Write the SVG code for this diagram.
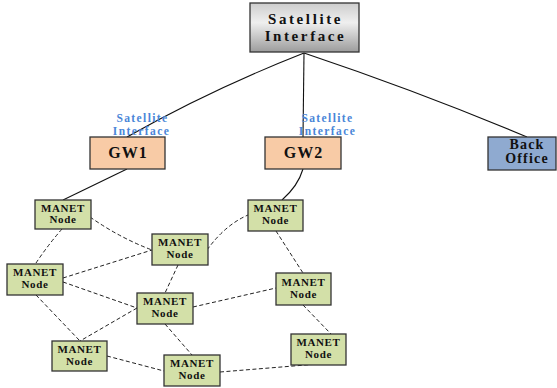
<svg xmlns="http://www.w3.org/2000/svg" width="557" height="388" viewBox="0 0 557 388">
<style>
.box{stroke:#333;stroke-width:1.3}
.t{font-family:'Liberation Serif','Times New Roman','DejaVu Serif',serif;font-weight:bold;fill:#111;text-anchor:middle}
.mt{font-size:11px;letter-spacing:0.6px}
.lbl{font-family:'Liberation Serif','Times New Roman','DejaVu Serif',serif;font-weight:bold;fill:#4a86d8;font-size:11.5px;letter-spacing:1.4px;text-anchor:middle}
.manet{fill:#d3e0a8}
.solid{fill:none;stroke:#111;stroke-width:1.1}
.dash{fill:none;stroke:#222;stroke-width:1;stroke-dasharray:4 2.5}
</style>
<defs>
<linearGradient id="g" x1="0" y1="0" x2="0" y2="1">
<stop offset="0" stop-color="#cdcdcd"/>
<stop offset="0.4" stop-color="#efefef"/>
<stop offset="1" stop-color="#9c9c9c"/>
</linearGradient>
</defs>
<rect width="557" height="388" fill="#fff"/>
<g id="connectors">
<path class="solid" d="M304,53 Q210,90 127,137"/>
<path class="solid" d="M304,53 L303,137"/>
<path class="solid" d="M304,53 Q420,92 527,137"/>
<path class="solid" d="M127,169 L63,200"/>
<path class="solid" d="M303,169 Q298,186 282,200"/>
<path class="dash" d="M62,229 Q48,245 36,263"/>
<path class="dash" d="M90,217 Q120,238 152,250"/>
<path class="dash" d="M63,278 L152,250"/>
<path class="dash" d="M63,282 L137,308"/>
<path class="dash" d="M178,265 L165,293"/>
<path class="dash" d="M207,250 Q225,225 248,215"/>
<path class="dash" d="M36,295 L80,341"/>
<path class="dash" d="M137,308 L80,341"/>
<path class="dash" d="M193,307 L276,288"/>
<path class="dash" d="M165,324 L192,355"/>
<path class="dash" d="M107,356 L164,371"/>
<path class="dash" d="M220,372 L318,364"/>
<path class="dash" d="M276,231 L303,273"/>
<path class="dash" d="M303,305 L331,334"/>
</g>
<g id="sat">
<rect class="box" x="250" y="3" width="109" height="49" fill="url(#g)"/>
<text class="t" x="305.5" y="23.5" font-size="15" letter-spacing="2.6">Satellite</text>
<text class="t" x="305.5" y="41" font-size="15" letter-spacing="2.6">Interface</text>
</g>
<g id="lbl1">
<text class="lbl" x="142.5" y="122">Satellite</text>
<text class="lbl" x="141.5" y="135">Interface</text>
</g>
<g id="lbl2">
<text class="lbl" x="327.5" y="122">Satellite</text>
<text class="lbl" x="327.5" y="135">Interface</text>
</g>
<g id="gw1">
<rect class="box" x="90" y="137" width="75" height="32" fill="#f8cba6"/>
<text class="t" x="128" y="158" font-size="16" letter-spacing="1">GW1</text>
</g>
<g id="gw2">
<rect class="box" x="265" y="137" width="76" height="32" fill="#f8cba6"/>
<text class="t" x="303.5" y="158" font-size="16" letter-spacing="1">GW2</text>
</g>
<g id="backoffice">
<rect class="box" x="488" y="137" width="68" height="33" fill="#8faad0"/>
<text class="t" x="527" y="149" font-size="14" letter-spacing="1.2">Back</text>
<text class="t" x="527" y="163" font-size="14" letter-spacing="1.2">Office</text>
</g>
<g id="n1">
<rect class="box manet" x="35" y="200" width="56" height="29"/>
<text class="t mt" x="63" y="212">MANET</text>
<text class="t mt" x="63" y="223">Node</text>
</g>
<g id="n2">
<rect class="box manet" x="152" y="234" width="56" height="31"/>
<text class="t mt" x="180" y="246">MANET</text>
<text class="t mt" x="180" y="258">Node</text>
</g>
<g id="n3">
<rect class="box manet" x="7" y="264" width="56" height="31"/>
<text class="t mt" x="35" y="276">MANET</text>
<text class="t mt" x="35" y="288">Node</text>
</g>
<g id="n4">
<rect class="box manet" x="137" y="293" width="56" height="31"/>
<text class="t mt" x="165" y="305">MANET</text>
<text class="t mt" x="165" y="317">Node</text>
</g>
<g id="n5">
<rect class="box manet" x="248" y="200" width="55" height="31"/>
<text class="t mt" x="275.5" y="212">MANET</text>
<text class="t mt" x="275.5" y="224">Node</text>
</g>
<g id="n6">
<rect class="box manet" x="276" y="273" width="55" height="32"/>
<text class="t mt" x="303.5" y="286">MANET</text>
<text class="t mt" x="303.5" y="298">Node</text>
</g>
<g id="n7">
<rect class="box manet" x="291" y="334" width="55" height="31"/>
<text class="t mt" x="318.5" y="346">MANET</text>
<text class="t mt" x="318.5" y="358">Node</text>
</g>
<g id="n8">
<rect class="box manet" x="52" y="341" width="55" height="30"/>
<text class="t mt" x="79.5" y="353">MANET</text>
<text class="t mt" x="79.5" y="365">Node</text>
</g>
<g id="n9">
<rect class="box manet" x="164" y="355" width="56" height="31"/>
<text class="t mt" x="192" y="367">MANET</text>
<text class="t mt" x="192" y="379">Node</text>
</g>
</svg>
